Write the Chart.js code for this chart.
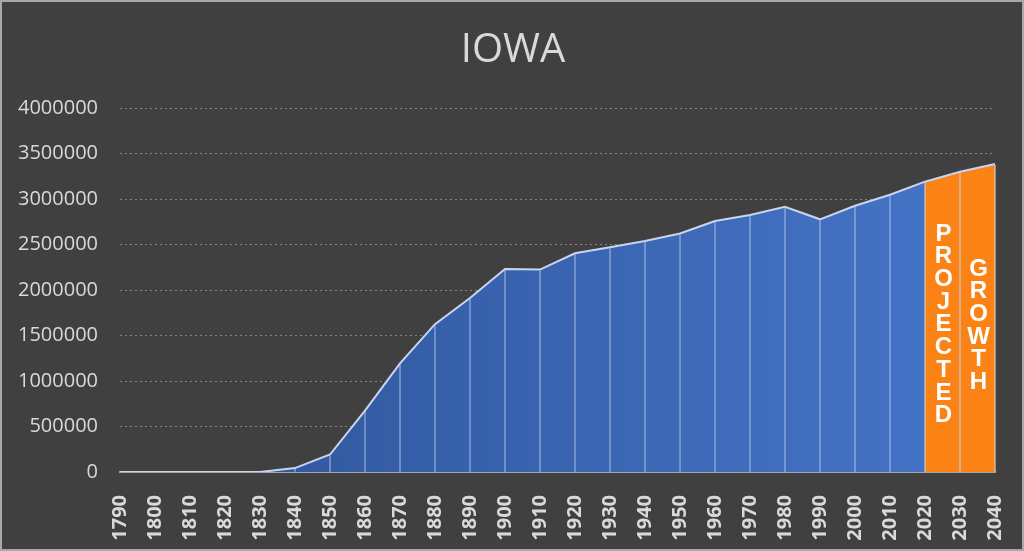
<!DOCTYPE html>
<html>
<head>
<meta charset="utf-8">
<title>IOWA</title>
<script src="https://cdn.jsdelivr.net/npm/chart.js@4.4.0/dist/chart.umd.min.js"></script>
<style>
  html, body { margin: 0; padding: 0; background: #404040; }
  .chart-box { position: relative; width: 1024px; height: 551px; }
</style>
</head>
<body>
<div class="chart-box"><canvas id="myChart"></canvas></div>
<script>
'use strict';

const chartTitle = 'IOWA';

// Census years + projections
const years = ['1790', '1800', '1810', '1820', '1830', '1840', '1850', '1860', '1870', '1880',
  '1890', '1900', '1910', '1920', '1930', '1940', '1950', '1960', '1970', '1980',
  '1990', '2000', '2010', '2020', '2030', '2040'];

// Population 1790 - 2020
const census = [0, 0, 0, 0, 0, 43112, 192214, 674913, 1194020, 1624615,
  1912297, 2231853, 2224771, 2404021, 2470939, 2538268, 2621073, 2757537, 2824376, 2913808,
  2776755, 2926324, 3046355, 3190369];

// Projected 2020 - 2040
const projectedYears = ['2020', '2030', '2040'];
const projected = [3190369, 3300000, 3385000];

const yTicks = [0, 500000, 1000000, 1500000, 2000000, 2500000, 3000000, 3500000, 4000000];

// Vertical words inside the orange part: [word, from year, to year, top value]
const notes = [
  ['PROJECTED', '2020', '2030', 2615000],
  ['GROWTH', '2030', '2040', 2230000]
];

const ctx = document.querySelector('#myChart').getContext('2d');

const censusData = years.map((y, i) => (i < census.length ? census[i] : null));
const projectedData = years.map(y => {
  const idx = projectedYears.indexOf(y);
  return idx === -1 ? null : projected[idx];
});

// Blue area gets darker on the left
const blueFill = (context) => {
  const area = context.chart.chartArea;
  if (!area) return '#3a62b0';
  const g = context.chart.ctx.createLinearGradient(area.left, 0, area.right, 0);
  g.addColorStop(0, '#2d5398');
  g.addColorStop(0.9, '#4472c4');
  return g;
};

// Title, drop lines, vertical text, frame
const extras = {
  id: 'extras',
  beforeDraw(chart) {
    const c = chart.ctx;
    c.save();
    c.fillStyle = '#d9d9d9';
    c.font = '40px "Open Sans", sans-serif';
    c.textAlign = 'center';
    c.textBaseline = 'middle';
    c.fillText(chartTitle, chart.width / 2 + 1, 51);
    c.restore();
  },
  afterDatasetsDraw(chart) {
    const c = chart.ctx;
    const xs = chart.scales.x;
    const ys = chart.scales.y;
    const zero = ys.getPixelForValue(0);

    c.save();
    c.lineWidth = 1.5;
    years.forEach((y, i) => {
      const v = censusData[i] !== null ? censusData[i] : projectedData[i];
      if (!v) return;
      const x = xs.getPixelForValue(i);
      c.strokeStyle = i >= census.length - 1 ? 'rgba(200, 200, 200, 0.85)' : 'rgba(185, 202, 235, 0.6)';
      c.beginPath();
      c.moveTo(x, ys.getPixelForValue(v) + 1);
      c.lineTo(x, zero);
      c.stroke();
    });

    c.fillStyle = '#ffffff';
    c.font = 'bold 24px "Liberation Sans", Arial, sans-serif';
    c.textAlign = 'center';
    c.textBaseline = 'middle';
    notes.forEach(([word, from, to, top]) => {
      const x = (xs.getPixelForValue(years.indexOf(from)) + xs.getPixelForValue(years.indexOf(to))) / 2;
      let yPos = ys.getPixelForValue(top);
      word.split('').forEach(ch => {
        c.fillText(ch, x + 1, yPos);
        yPos += 22.7;
      });
    });
    c.restore();
  },
  afterDraw(chart) {
    const c = chart.ctx;
    c.save();
    c.strokeStyle = '#a9a9a9';
    c.lineWidth = 2;
    c.strokeRect(1, 1, chart.width - 2, chart.height - 2);
    c.restore();
  }
};

const myChart = new Chart(ctx, {
  type: 'line',
  data: {
    labels: years,
    datasets: [{
      label: 'Census',
      data: censusData,
      backgroundColor: blueFill,
      borderColor: '#c8d5ee',
      borderWidth: 2,
      fill: 'origin',
      pointRadius: 0,
      tension: 0
    }, {
      label: 'Projected',
      data: projectedData,
      backgroundColor: '#fb8214',
      borderColor: '#c8d5ee',
      borderWidth: 2,
      fill: 'origin',
      pointRadius: 0,
      tension: 0
    }]
  },
  options: {
    responsive: true,
    maintainAspectRatio: false,
    animation: false,
    layout: {
      padding: { left: 0, right: 29, top: 108, bottom: 0 }
    },
    scales: {
      x: {
        z: 1,
        grid: { display: false },
        border: { display: true, color: '#a6a6a6', width: 2 },
        ticks: {
          color: '#d9d9d9',
          autoSkip: false,
          maxRotation: 90,
          minRotation: 90,
          padding: 15,
          font: { family: '"Open Sans", sans-serif', size: 20, weight: 'bold' }
        },
        afterFit: (scale) => {
          scale.height = 79;
          scale.paddingLeft = 0;
          scale.paddingRight = 0;
        }
      },
      y: {
        min: 0,
        max: 4000000,
        afterBuildTicks: (scale) => { scale.ticks = yTicks.map(v => ({ value: v })); },
        grid: { color: '#858585', lineWidth: 1, drawTicks: false },
        border: { display: false, dash: [2, 3] },
        ticks: {
          color: '#d9d9d9',
          padding: 22,
          font: { family: '"Open Sans", sans-serif', size: 20 },
          callback: (value) => String(value)
        },
        afterFit: (scale) => { scale.width = 120; }
      }
    },
    plugins: {
      legend: { display: false },
      tooltip: { enabled: false },
      title: { display: false }
    }
  },
  plugins: [extras]
});
</script>
</body>
</html>
